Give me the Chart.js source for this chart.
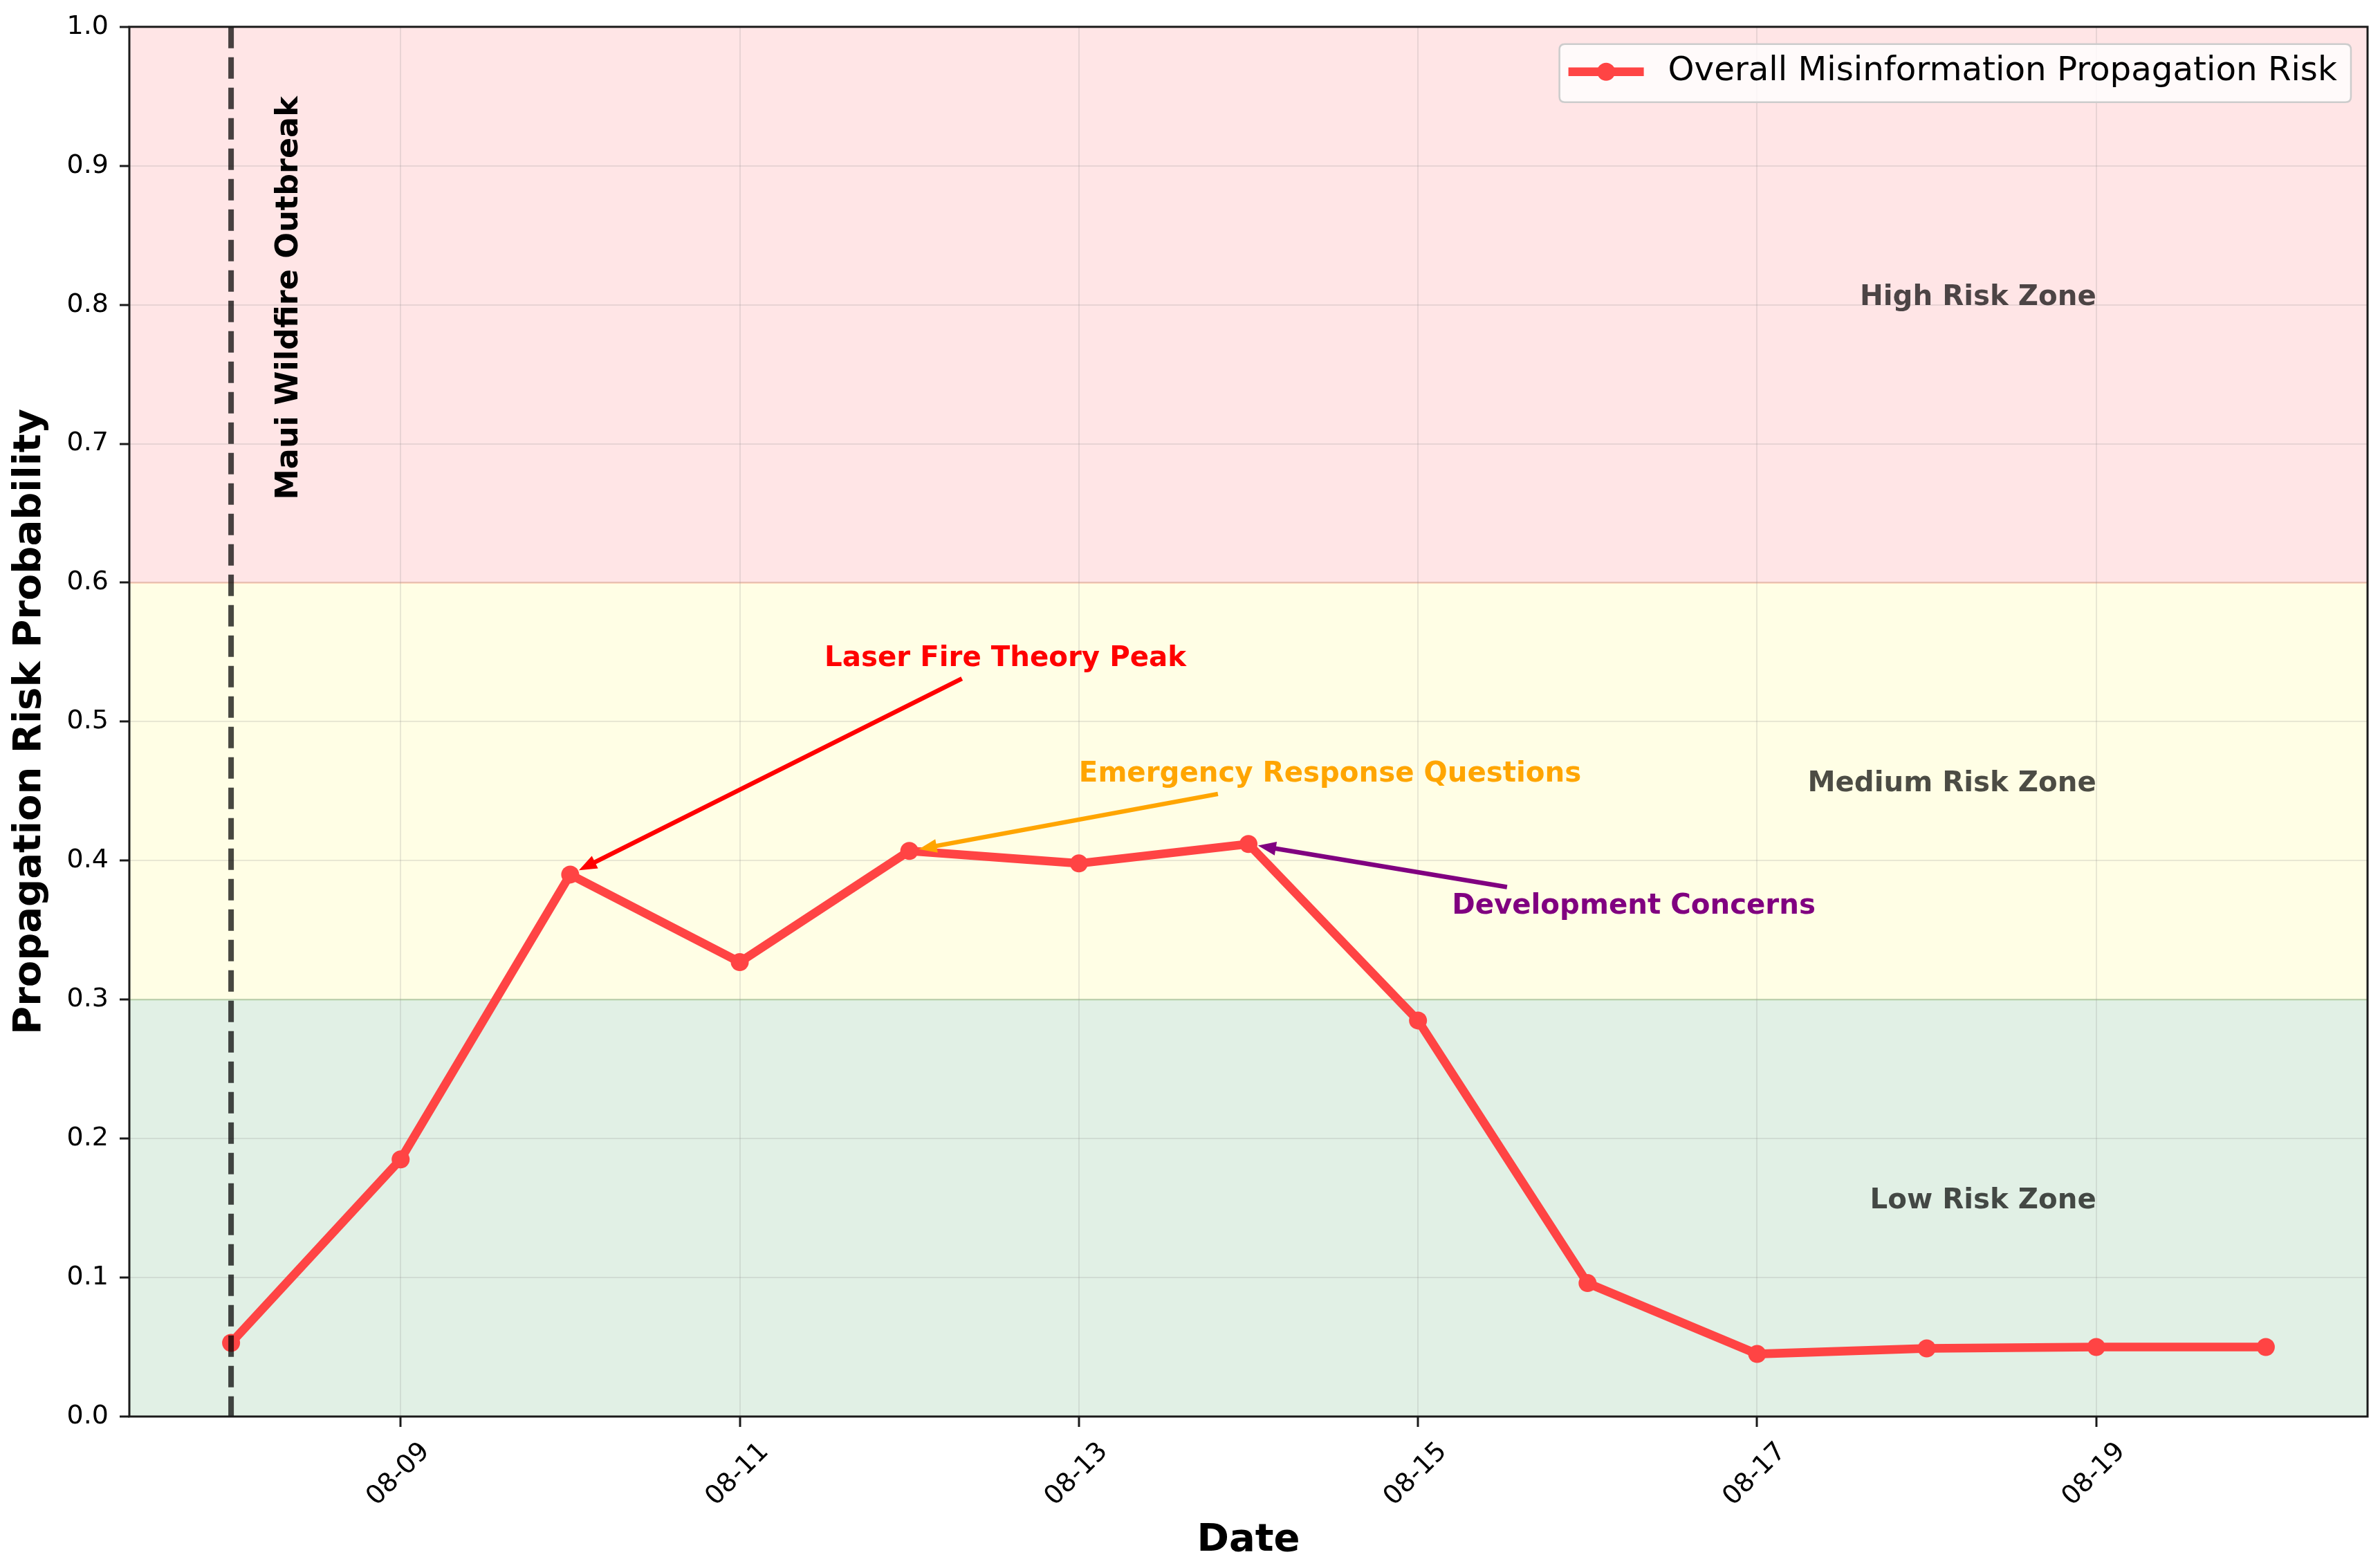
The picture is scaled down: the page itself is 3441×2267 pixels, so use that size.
<!DOCTYPE html>
<html>
<head>
<meta charset="utf-8">
<script src="https://cdn.jsdelivr.net/npm/chart.js@4.4.1/dist/chart.umd.min.js"></script>
<style>
  html, body { margin: 0; padding: 0; background: #ffffff; }
  #wrap { width: 3441px; height: 2267px; }
</style>
</head>
<body>
<div id="wrap"><canvas id="c" width="3441" height="2267"></canvas></div>
<script>
// ---------------- DATA ----------------
const dateLabels = ['08-08','08-09','08-10','08-11','08-12','08-13','08-14','08-15','08-16','08-17','08-18','08-19','08-20'];
const riskValues = [0.053, 0.185, 0.390, 0.327, 0.407, 0.398, 0.412, 0.285, 0.096, 0.045, 0.049, 0.050, 0.050];
const seriesLabel = 'Overall Misinformation Propagation Risk';
const xTickIndices = [1, 3, 5, 7, 9, 11];
const yTickValues = [0.0, 0.1, 0.2, 0.3, 0.4, 0.5, 0.6, 0.7, 0.8, 0.9, 1.0];
const zoneBounds = [[0.6, 1.0], [0.3, 0.6], [0.0, 0.3]];
const zoneLabels = ['High Risk Zone', 'Medium Risk Zone', 'Low Risk Zone'];
const zoneLabelValues = [0.8, 0.45, 0.15];
const eventIndex = 0;
const eventLabel = 'Maui Wildfire Outbreak';
const annotationTexts = ['Laser Fire Theory Peak', 'Emergency Response Questions', 'Development Concerns'];
const annotationTargets = [2, 4, 6];

// ---------------- STYLE / LAYOUT ----------------
const FONT = "'DejaVu Sans', 'Liberation Sans', sans-serif";
const lineColor = '#FF4444';
const zoneFills = ['rgb(255,229,230)', 'rgb(255,254,229)', 'rgb(225,240,229)'];
const zoneEdges = ['rgba(255,150,120,0.45)', 'rgba(150,200,120,0.45)'];
const annotationStyle = [
  { color: '#FF0000', textX: 3.5, textY: 0.540, tailX: 4.31, tailY: 0.531 },
  { color: '#FFA500', textX: 5.0, textY: 0.457, tailX: 5.82, tailY: 0.448 },
  { color: '#800080', textX: 7.2, textY: 0.362, tailX: 7.525, tailY: 0.381 }
];
const eventTextX = 0.39;   // baseline position (days from first date)
const eventTextTopY = 0.95;
const zoneLabelX = 11;
const annFont = 40.3;

Chart.defaults.font.family = FONT;
Chart.defaults.color = '#000';

function drawArrow(ctx, x0, y0, x1, y1, color) {
  const dx = x1 - x0, dy = y1 - y0, L = Math.hypot(dx, dy);
  const ux = dx / L, uy = dy / L;
  const shrink = 14, headLen = 26, headHalf = 10;
  const tx = x1 - ux * shrink, ty = y1 - uy * shrink;
  const bx = tx - ux * headLen, by = ty - uy * headLen;
  ctx.save();
  ctx.strokeStyle = color; ctx.fillStyle = color;
  ctx.lineWidth = 6.5; ctx.lineCap = 'butt';
  ctx.beginPath(); ctx.moveTo(x0, y0); ctx.lineTo(bx + ux * 2, by + uy * 2); ctx.stroke();
  ctx.beginPath();
  ctx.moveTo(tx, ty);
  ctx.lineTo(bx - uy * headHalf, by + ux * headHalf);
  ctx.lineTo(bx + uy * headHalf, by - ux * headHalf);
  ctx.closePath(); ctx.fill();
  ctx.restore();
}

const zonePlugin = {
  id: 'zones',
  beforeDraw(chart) {
    const { ctx, chartArea: a, scales: { y } } = chart;
    ctx.save();
    zoneBounds.forEach(([lo, hi], i) => {
      const yt = y.getPixelForValue(hi), yb = y.getPixelForValue(lo);
      ctx.fillStyle = zoneFills[i];
      ctx.fillRect(a.left, yt, a.right - a.left, yb - yt);
    });
    [0.6, 0.3].forEach((v, i) => {
      const py = y.getPixelForValue(v);
      ctx.strokeStyle = zoneEdges[i]; ctx.lineWidth = 2.5;
      ctx.beginPath(); ctx.moveTo(a.left, py); ctx.lineTo(a.right, py); ctx.stroke();
    });
    ctx.restore();

    // Reposition rotated x tick labels so that they are centred under their ticks
    const xs = chart.scales.x;
    const items = xs.getLabelItems(chart.chartArea);
    items.forEach((it, i) => {
      const t = xs.ticks[i];
      if (!t) return;
      const px = xs.getPixelForValue(t.value);
      it.options.translation = [px - 3, a.bottom + 84];
      it.options.textAlign = 'center';
      it.options.textBaseline = 'middle';
      it.textOffset = 0;
    });
  }
};

const overlayPlugin = {
  id: 'overlay',
  afterDatasetsDraw(chart) {
    const { ctx, chartArea: a, scales: { x, y } } = chart;
    ctx.save();
    // event line
    const ex = x.getPixelForValue(eventIndex);
    ctx.strokeStyle = 'rgba(0,0,0,0.72)';
    ctx.lineWidth = 8;
    ctx.setLineDash([31, 13]);
    ctx.beginPath(); ctx.moveTo(ex, a.top); ctx.lineTo(ex, a.bottom); ctx.stroke();
    ctx.setLineDash([]);

    // event label (rotated)
    ctx.save();
    ctx.translate(x.getPixelForValue(eventTextX), y.getPixelForValue(eventTextTopY));
    ctx.rotate(-Math.PI / 2);
    ctx.font = `bold 44.5px ${FONT}`;
    ctx.fillStyle = '#000';
    ctx.textAlign = 'right';
    ctx.textBaseline = 'alphabetic';
    ctx.fillText(eventLabel, 0, 0);
    ctx.restore();

    // zone labels
    ctx.font = `bold ${annFont}px ${FONT}`;
    ctx.fillStyle = 'rgba(0,0,0,0.7)';
    ctx.textAlign = 'right';
    ctx.textBaseline = 'alphabetic';
    zoneLabels.forEach((t, i) => {
      ctx.fillText(t, x.getPixelForValue(zoneLabelX), y.getPixelForValue(zoneLabelValues[i]));
    });

    // annotations
    annotationTexts.forEach((t, i) => {
      const s = annotationStyle[i];
      const idx = annotationTargets[i];
      const px = x.getPixelForValue(idx), py = y.getPixelForValue(riskValues[idx]);
      drawArrow(ctx, x.getPixelForValue(s.tailX), y.getPixelForValue(s.tailY), px, py, s.color);
      ctx.font = `bold ${annFont}px ${FONT}`;
      ctx.fillStyle = s.color;
      ctx.textAlign = 'left';
      ctx.textBaseline = 'alphabetic';
      ctx.fillText(t, x.getPixelForValue(s.textX), y.getPixelForValue(s.textY));
    });
    ctx.restore();
  },
  afterDraw(chart) {
    const { ctx, chartArea: a } = chart;
    ctx.save();
    // spines
    ctx.strokeStyle = '#1a1a1a';
    ctx.lineWidth = 3;
    ctx.strokeRect(a.left, a.top, a.right - a.left, a.bottom - a.top);

    // legend
    const ds = chart.data.datasets[0];
    ctx.font = `48.3px ${FONT}`;
    const tw = ctx.measureText(ds.label).width;
    const padL = 13, lineLen = 109, gap = 35, padR = 20, h = 84;
    const w = padL + lineLen + gap + tw + padR;
    const right = a.right - 24, top = a.top + 25;
    const left = right - w;
    const r = 8;
    ctx.beginPath();
    ctx.moveTo(left + r, top);
    ctx.lineTo(right - r, top); ctx.quadraticCurveTo(right, top, right, top + r);
    ctx.lineTo(right, top + h - r); ctx.quadraticCurveTo(right, top + h, right - r, top + h);
    ctx.lineTo(left + r, top + h); ctx.quadraticCurveTo(left, top + h, left, top + h - r);
    ctx.lineTo(left, top + r); ctx.quadraticCurveTo(left, top, left + r, top);
    ctx.closePath();
    ctx.fillStyle = 'rgba(255,255,255,0.8)';
    ctx.fill();
    ctx.strokeStyle = 'rgba(204,204,204,1)';
    ctx.lineWidth = 2.5;
    ctx.stroke();
    const cy = top + 40;
    ctx.strokeStyle = ds.borderColor;
    ctx.lineWidth = ds.borderWidth;
    ctx.beginPath(); ctx.moveTo(left + padL, cy); ctx.lineTo(left + padL + lineLen, cy); ctx.stroke();
    ctx.fillStyle = ds.pointBackgroundColor;
    ctx.beginPath(); ctx.arc(left + padL + lineLen / 2, cy, ds.pointRadius, 0, Math.PI * 2); ctx.fill();
    ctx.fillStyle = '#000';
    ctx.textAlign = 'left';
    ctx.textBaseline = 'middle';
    ctx.fillText(ds.label, left + padL + lineLen + gap, cy);
    ctx.restore();
  }
};

new Chart(document.getElementById('c'), {
  type: 'line',
  data: {
    datasets: [{
      label: seriesLabel,
      data: riskValues.map((v, i) => ({ x: i, y: v })),
      borderColor: lineColor,
      backgroundColor: lineColor,
      pointBackgroundColor: lineColor,
      pointBorderColor: lineColor,
      borderWidth: 12.5,
      pointRadius: 13,
      pointBorderWidth: 0,
      tension: 0,
      clip: false
    }]
  },
  options: {
    responsive: false,
    animation: false,
    devicePixelRatio: 1,
    layout: { padding: { top: 34, right: 18, left: 0, bottom: 0 } },
    plugins: { legend: { display: false }, tooltip: { enabled: false } },
    scales: {
      x: {
        type: 'linear',
        min: -0.6,
        max: 12.6,
        afterBuildTicks: s => { s.ticks = xTickIndices.map(v => ({ value: v })); },
        afterFit: s => { s.height = 219; },
        ticks: {
          autoSkip: false,
          minRotation: 45,
          maxRotation: 45,
          font: { size: 38 },
          color: '#000',
          padding: 10,
          callback: v => dateLabels[v]
        },
        grid: {
          color: 'rgba(150,150,150,0.22)',
          lineWidth: 2,
          drawTicks: true,
          tickLength: 15,
          tickColor: '#1a1a1a',
          tickWidth: 3
        },
        border: { display: false },
        title: {
          display: true,
          text: 'Date',
          font: { size: 56, weight: 'bold' },
          color: '#000',
          padding: { top: 0, bottom: 6 }
        }
      },
      y: {
        min: 0,
        max: 1,
        afterBuildTicks: s => { s.ticks = yTickValues.map(v => ({ value: v })); },
        afterFit: s => { s.width = 187; },
        ticks: {
          font: { size: 38 },
          color: '#000',
          padding: 16,
          callback: v => Number(v).toFixed(1)
        },
        grid: {
          color: 'rgba(150,150,150,0.22)',
          lineWidth: 2,
          drawTicks: true,
          tickLength: 14,
          tickColor: '#1a1a1a',
          tickWidth: 3
        },
        border: { display: false },
        title: {
          display: true,
          text: 'Propagation Risk Probability',
          font: { size: 56, weight: 'bold' },
          color: '#000',
          padding: { top: 10, bottom: 0 }
        }
      }
    }
  },
  plugins: [zonePlugin, overlayPlugin]
});
</script>
</body>
</html>
